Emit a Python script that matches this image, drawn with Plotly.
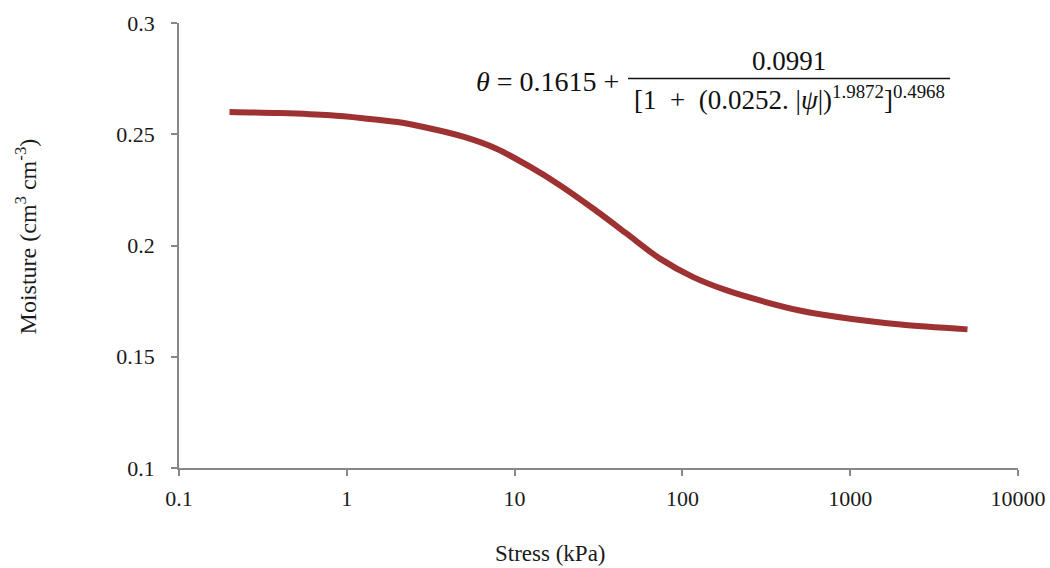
import plotly.graph_objects as go

# Values
stress_kpa = [0.2, 0.4, 0.8, 1.25, 2, 3.1, 5, 7.8, 12.4, 18.7, 29.5, 46.6, 73.5,
              116, 184, 290, 500, 1000, 2000, 5000]
moisture = [0.2600, 0.2595, 0.2585, 0.2572, 0.2555, 0.2527, 0.2488, 0.2435, 0.2353,
            0.2270, 0.2165, 0.2053, 0.1941, 0.1858, 0.1798, 0.1753, 0.1708,
            0.1671, 0.1645, 0.1623]

x_ticks = [0.1, 1, 10, 100, 1000, 10000]
x_ticktext = ["0.1", "1", "10", "100", "1000", "10000"]
y_ticks = [0.1, 0.15, 0.2, 0.25, 0.3]
y_ticktext = ["0.1", "0.15", "0.2", "0.25", "0.3"]

FONT = "Liberation Serif"
AXIS_COLOR = "#878787"
LINE_COLOR = "#9E3232"
TEXT_COLOR = "#1a1a1a"

W, H = 1050, 568
PX0, PX1, PY0, PY1 = 179, 1018, 22.5, 467.7  # plot area in page pixels
L, T, R, B = PX0, PY0, W - PX1, H - PY1
PW, PH = PX1 - PX0, PY1 - PY0


def px(x):
    return (x - PX0) / PW


def py(y):
    return (PY1 - y) / PH


fig = go.Figure()
fig.add_trace(go.Scatter(
    x=stress_kpa, y=moisture, mode="lines",
    line=dict(color=LINE_COLOR, width=6, shape="spline", smoothing=0.8),
    showlegend=False, hoverinfo="skip",
))

tick_font = dict(family=FONT, size=22, color=TEXT_COLOR)
fig.update_layout(
    width=W, height=H,
    margin=dict(l=L, r=R, t=T, b=B, pad=0, autoexpand=False),
    paper_bgcolor="white", plot_bgcolor="white",
    font=dict(family=FONT, size=22, color=TEXT_COLOR),
    xaxis=dict(
        type="log", range=[-1, 4],
        tickvals=x_ticks, ticktext=x_ticktext,
        showgrid=False, zeroline=False,
        showline=True, linecolor=AXIS_COLOR, linewidth=1.5,
        ticks="outside", ticklen=6, tickcolor=AXIS_COLOR, tickwidth=1.5,
        ticklabelstandoff=4,
        tickfont=tick_font,
    ),
    yaxis=dict(
        range=[0.1, 0.3],
        tickvals=y_ticks, ticktext=y_ticktext,
        showgrid=False, zeroline=False,
        showline=True, linecolor=AXIS_COLOR, linewidth=1.5,
        ticks="outside", ticklen=6, tickcolor=AXIS_COLOR, tickwidth=1.5,
        ticklabelstandoff=12,
        tickfont=tick_font,
    ),
)

eq_font = dict(family=FONT, size=27, color="#111111")
annotations = [
    dict(text="Moisture (cm<sup>3</sup> cm<sup>-3</sup>)", x=px(26), y=py(236),
         xref="paper", yref="paper", showarrow=False, textangle=-90,
         font=dict(family=FONT, size=24, color=TEXT_COLOR),
         xanchor="center", yanchor="middle"),
    dict(text="Stress (kPa)", x=px(550), y=py(553),
         xref="paper", yref="paper", showarrow=False,
         font=dict(family=FONT, size=23, color=TEXT_COLOR),
         xanchor="center", yanchor="middle"),
    dict(text="<i>θ</i> = 0.1615 +", x=px(621), y=py(81),
         xref="paper", yref="paper", showarrow=False,
         font=dict(family=FONT, size=28, color="#111111"),
         xanchor="right", yanchor="middle"),
    dict(text="0.0991", x=px(789), y=py(61),
         xref="paper", yref="paper", showarrow=False, font=eq_font,
         xanchor="center", yanchor="middle"),
    dict(text="[1&nbsp; +&nbsp; (0.0252.&nbsp;|<i>ψ</i>|)<sup>1.9872</sup>]<sup>0.4968</sup>",
         x=px(789), y=py(98),
         xref="paper", yref="paper", showarrow=False, font=eq_font,
         xanchor="center", yanchor="middle"),
]
fig.update_layout(annotations=annotations)

fig.add_shape(type="line", xref="paper", yref="paper",
              x0=px(628), x1=px(950), y0=py(78), y1=py(78),
              line=dict(color="#111111", width=1.5))

fig.write_html(
    "out.html",
    config={"displayModeBar": False},
    post_script="document.body.style.margin='0';"
                "document.body.style.overflow='hidden';",
)
